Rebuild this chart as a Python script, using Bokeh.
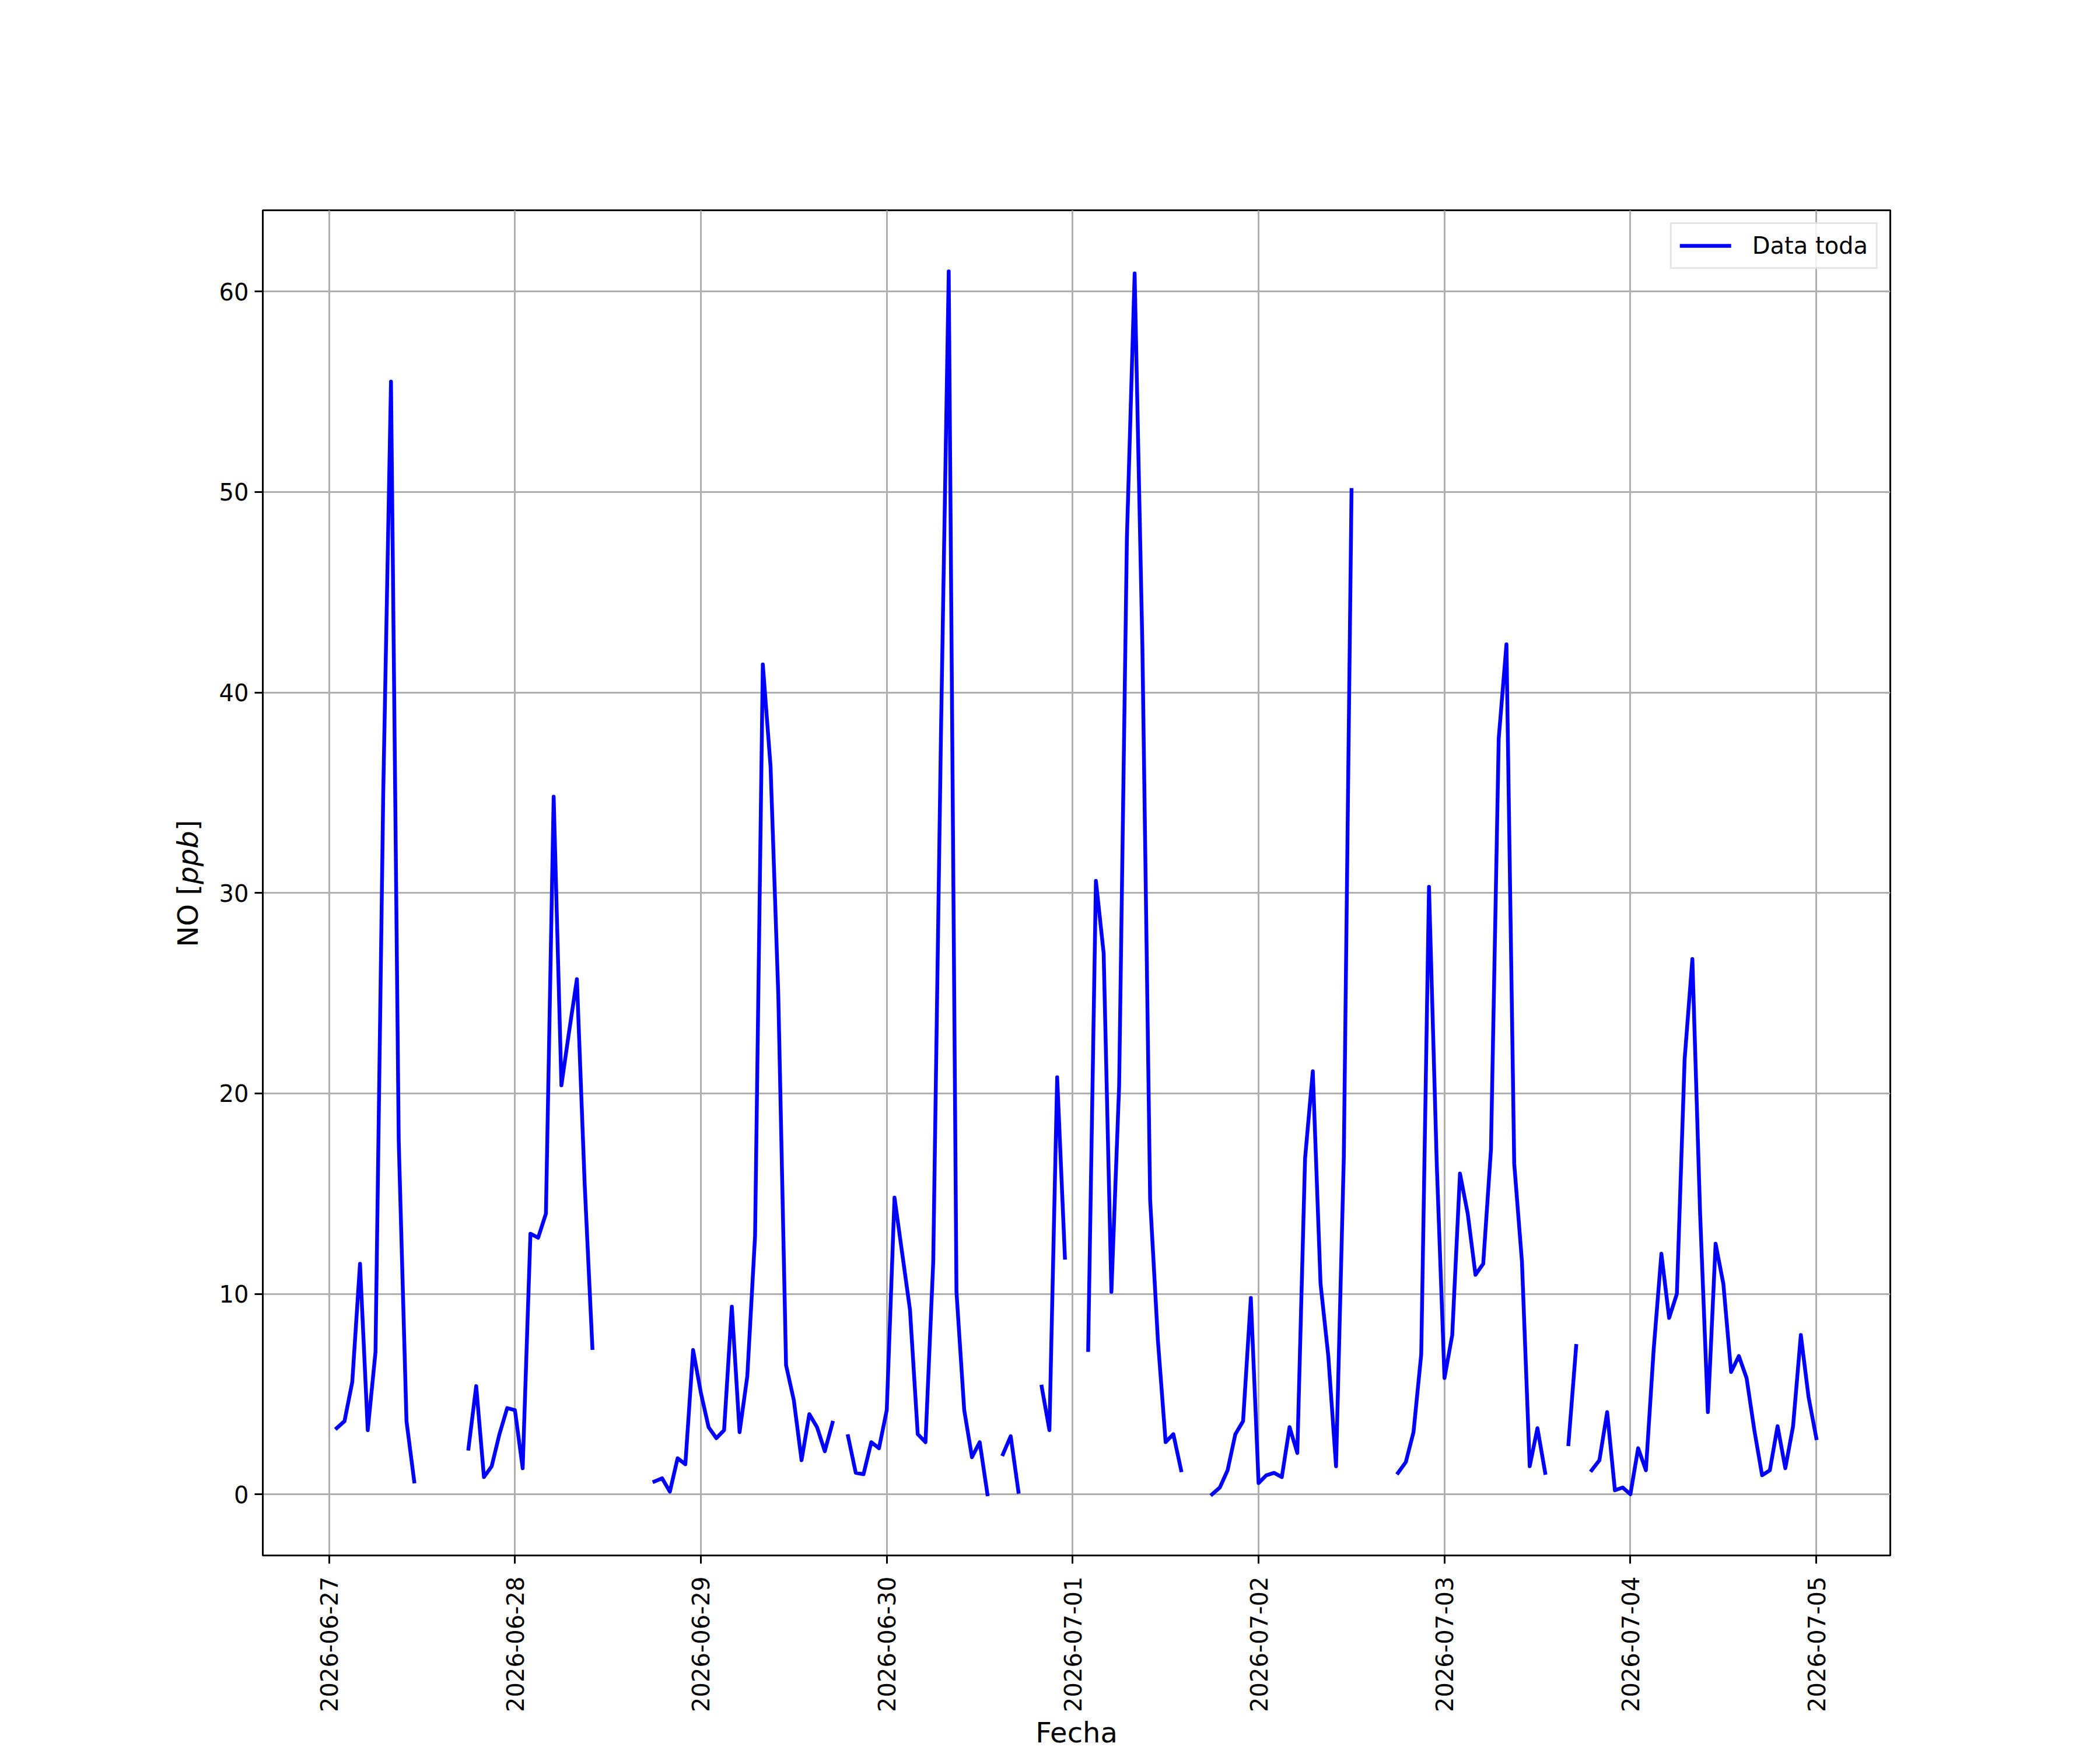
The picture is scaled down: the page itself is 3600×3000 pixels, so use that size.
import math
import numpy as np
import pandas as pd
from bokeh.plotting import figure
from bokeh.layouts import row
from bokeh.models import ColumnDataSource, FixedTicker, DatetimeTickFormatter, Range1d, Label
from bokeh.embed import file_html
from bokeh.resources import INLINE

nan = float("nan")

# Hourly NO values [ppb], one list per calendar day (00:00 ... 23:00)
start_time = "2026-06-27 00:00"
no_0627 = [nan, 3.3, 3.65, 5.6, 11.5, 3.2, 7.1, 35.0, 55.5, 17.6, 3.65, 0.64,
           nan, nan, nan, nan, nan, nan, 2.28, 5.4, 0.86, 1.4, 3.0, 4.3]
no_0628 = [4.2, 1.3, 13.0, 12.8, 14.0, 34.8, 20.4, 23.1, 25.7, 15.5, 7.3, nan,
           nan, nan, nan, nan, nan, nan, 0.64, 0.8, 0.13, 1.8, 1.5, 7.2]
no_0629 = [5.07, 3.35, 2.8, 3.2, 9.36, 3.1, 5.9, 12.9, 41.4, 36.3, 24.9, 6.44,
           4.7, 1.7, 4.0, 3.35, 2.15, 3.57, nan, 2.9, 1.07, 1.0, 2.6, 2.3]
no_0630 = [4.2, 14.8, 12.0, 9.2, 3.0, 2.6, 11.6, 38.0, 61.0, 10.1, 4.2, 1.85,
           2.6, 0.0, nan, 2.0, 2.9, 0.13, nan, nan, 5.37, 3.2, 20.8, 11.8]
no_0701 = [nan, nan, 7.2, 30.6, 27.0, 10.1, 20.4, 47.7, 60.9, 42.3, 14.7, 7.7,
           2.6, 3.0, 1.2, nan, nan, nan, 0.0, 0.34, 1.2, 3.0, 3.65, 9.8]
no_0702 = [0.56, 0.95, 1.07, 0.86, 3.35, 2.06, 16.75, 21.1, 10.5, 6.9, 1.4, 16.75,
           50.1, nan, nan, nan, nan, nan, 1.07, 1.6, 3.1, 7.0, 30.3, 16.5]
no_0703 = [5.8, 7.95, 16.0, 14.0, 10.95, 11.5, 17.2, 37.7, 42.4, 16.5, 11.6, 1.4,
           3.3, 1.07, nan, nan, 2.5, 7.4, nan, 1.2, 1.7, 4.1, 0.2, 0.34]
no_0704 = [0.0, 2.3, 1.2, 7.2, 12.0, 8.8, 10.0, 21.7, 26.7, 14.0, 4.1, 12.5,
           10.5, 6.1, 6.9, 5.8, 3.2, 0.95, 1.2, 3.4, 1.3, 3.4, 7.95, 4.85]
no_0705 = [2.8]

day_ticks = ["2026-06-27", "2026-06-28", "2026-06-29", "2026-06-30", "2026-07-01",
             "2026-07-02", "2026-07-03", "2026-07-04", "2026-07-05"]
y_ticks = [0, 10, 20, 30, 40, 50, 60]
series_label = "Data toda"
x_label = "Fecha"
y_label_parts = [("NO [", "normal"), ("ppb", "italic"), ("]", "normal")]

values = np.array(no_0627 + no_0628 + no_0629 + no_0630 + no_0701 + no_0702
                  + no_0703 + no_0704 + no_0705, dtype=float)
times = pd.date_range(start_time, periods=len(values), freq="h")

valid = ~np.isnan(values)
t_first = times[valid][0]
t_last = times[valid][-1]
xpad = 0.05 * (t_last - t_first)
ymin = float(np.nanmin(values))
ymax = float(np.nanmax(values))
ypad = 0.05 * (ymax - ymin)

src = ColumnDataSource(data=dict(t=times, v=values))

FONT = "DejaVu Sans"
H = 3000
LW = 350          # width of the strip holding the y-axis title
W = 3600 - LW

p = figure(width=W, height=H, output_backend="svg", toolbar_location=None,
           x_axis_type="datetime",
           x_range=Range1d((t_first - xpad).to_pydatetime(), (t_last + xpad).to_pydatetime()),
           y_range=Range1d(ymin - ypad, ymax + ypad),
           min_border_left=450 - LW, min_border_right=360, min_border_top=360,
           min_border_bottom=330)
p.background_fill_color = "white"
p.border_fill_color = "white"
p.outline_line_color = "black"
p.outline_line_width = 3

p.line("t", "v", source=src, line_color="#0000ff", line_width=6.5,
       line_join="round", line_cap="square", legend_label=series_label)

# axes
p.xaxis.ticker = FixedTicker(ticks=[pd.Timestamp(d).value / 1e6 for d in day_ticks])
fmt = "%Y-%m-%d"
p.xaxis.formatter = DatetimeTickFormatter(days=fmt, months=fmt, hours=fmt, hourmin=fmt,
                                          minutes=fmt, years=fmt)
p.xaxis.major_label_orientation = math.pi / 2
p.yaxis.ticker = FixedTicker(ticks=y_ticks)

for ax in (p.xaxis[0], p.yaxis[0]):
    ax.axis_line_color = "black"
    ax.axis_line_width = 3
    ax.major_tick_line_color = "black"
    ax.major_tick_line_width = 3
    ax.major_tick_out = 14
    ax.major_tick_in = 0
    ax.minor_tick_out = 0
    ax.minor_tick_in = 0
    ax.major_label_text_font = FONT
    ax.major_label_text_font_size = "40px"
    ax.major_label_text_color = "black"
    ax.axis_label_text_font = FONT
    ax.axis_label_text_font_size = "48px"
    ax.axis_label_text_font_style = "normal"
    ax.axis_label_text_color = "black"

p.xaxis.major_label_standoff = 22
p.xaxis.axis_label = x_label
p.xaxis.axis_label_standoff = 4
p.yaxis.major_label_standoff = 10
p.yaxis.axis_label = None

# grid
for g in (p.xgrid[0], p.ygrid[0]):
    g.grid_line_color = "#b0b0b0"
    g.grid_line_width = 3

# legend
lg = p.legend[0]
lg.location = "top_right"
lg.margin = 21
lg.padding = 14
lg.spacing = 0
lg.glyph_width = 88
lg.glyph_height = 40
lg.label_height = 40
lg.label_standoff = 36
lg.label_text_font = FONT
lg.label_text_font_size = "40px"
lg.label_text_color = "black"
lg.border_line_color = "#cccccc"
lg.border_line_width = 3
lg.background_fill_color = "white"
lg.background_fill_alpha = 0.8

# strip on the left carrying the y-axis title "NO [ppb]" (ppb in italic);
# in a row its frame is aligned with the main frame, so y is measured from the frame bottom
ylab = figure(width=LW, height=H, output_backend="svg", toolbar_location=None,
              x_axis_location=None, y_axis_location=None, min_border=0,
              x_range=Range1d(0, 1), y_range=Range1d(0, 1))
ylab.outline_line_color = None
ylab.background_fill_color = "white"
ylab.border_fill_color = "white"
ylab.grid.visible = False
piece_w = [107.7, 91.4, 18.7]   # rendered widths of the pieces at 48px
frame_mid = 1152
y0 = frame_mid - sum(piece_w) / 2
for (txt, style), w in zip(y_label_parts, piece_w):
    ylab.add_layout(Label(x=321, y=y0, x_units="screen", y_units="screen", text=txt,
                          angle=math.pi / 2, text_align="left", text_baseline="middle",
                          text_font=FONT, text_font_size="48px", text_font_style=style,
                          text_color="black"))
    y0 += w

layout = row(ylab, p, spacing=0)
open("out.html", "w").write(file_html(layout, INLINE))
